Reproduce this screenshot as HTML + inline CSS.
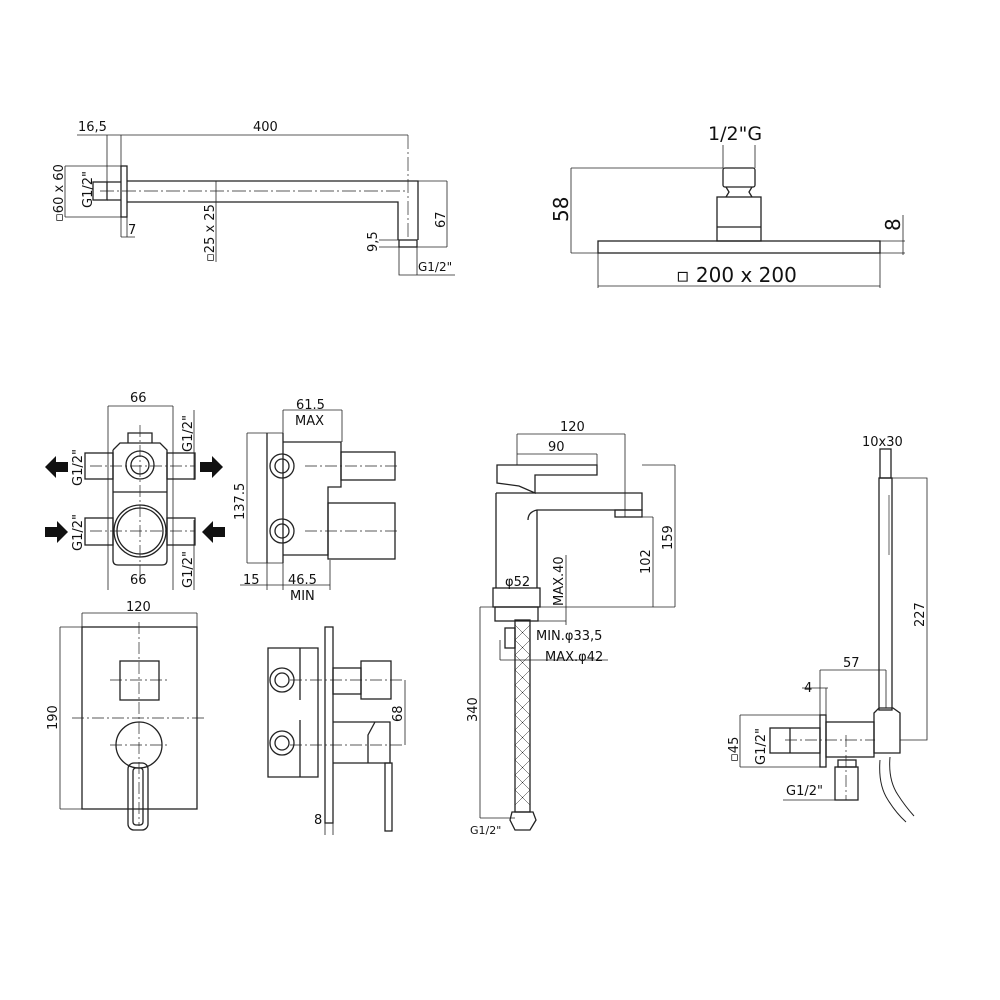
<!DOCTYPE html>
<html><head><meta charset="utf-8"><style>
html,body{margin:0;padding:0;background:#fff}
svg{display:block}
text{font-family:"DejaVu Sans","Liberation Sans",sans-serif;fill:#111}
</style></head><body>
<svg width="1000" height="1000" viewBox="0 0 1000 1000" xmlns="http://www.w3.org/2000/svg">
<g fill="none" stroke="#222" stroke-width="1.3">
<!-- ===== Shower arm ===== -->
<line x1="77" y1="135" x2="408" y2="135" stroke-width="0.8"/>
<line x1="107" y1="135" x2="107" y2="200" stroke-width="0.8"/>
<line x1="121" y1="135" x2="121" y2="237" stroke-width="0.8"/>
<rect x="121" y="166" width="6" height="51"/>
<path d="M127 181 H418 V240 M127 202 H398 V240"/>
<rect x="93" y="182" width="14" height="18"/>
<path d="M107 182 H121 M107 200 H121"/>
<line x1="100" y1="191" x2="405" y2="191" stroke-width="0.7" stroke-dasharray="14 3 2 3"/>
<line x1="408" y1="135" x2="408" y2="240" stroke-width="0.7" stroke-dasharray="14 3 2 3"/>
<path d="M65 166 H121 M65 217 H121 M65 166 V217" stroke-width="0.8"/>
<path d="M127 217 V237 M121 237 H135" stroke-width="0.8"/>
<line x1="216" y1="181" x2="216" y2="262" stroke-width="0.8"/>
<rect x="399" y="240" width="18" height="7"/>
<path d="M399 247 V275 H455 M417 247 V275" stroke-width="0.8"/>
<path d="M379 240 H399 M379 247 H399 M417 247 H447 M418 181 H447 M447 181 V247" stroke-width="0.8"/>
<!-- ===== Shower head ===== -->
<rect x="598" y="241" width="282" height="12"/>
<rect x="717" y="197" width="44" height="44"/>
<line x1="717" y1="227" x2="761" y2="227"/>
<rect x="723" y="168" width="32" height="19" rx="2"/>
<path d="M726 187 L729 192 L726 197 M752 187 L749 192 L752 197"/>
<path d="M723 145 V168 M755 145 V168" stroke-width="0.8"/>
<path d="M571 168 V253 M571 168 H723 M571 253 H598" stroke-width="0.8"/>
<path d="M903 215 V255 M880 241 H905 M880 253 H905" stroke-width="0.8"/>
<path d="M598 253 V288 M880 253 V288 M598 286 H880" stroke-width="0.8"/>
<!-- ===== Valve front ===== -->
<path d="M108 406 H173 M108 406 V590 M173 406 V590 M194 410 V480 M194 520 V590" stroke-width="0.8"/>
<path d="M113 450 V560 Q113 565 118 565 H162 Q167 565 167 560 V450 L160 443 H128 V433 H152 V443 M113 450 L120 443 H128 M113 492 H167"/>
<circle cx="140" cy="465" r="14"/><circle cx="140" cy="465" r="9"/>
<circle cx="140" cy="531" r="26"/><circle cx="140" cy="531" r="23"/>
<rect x="85" y="453" width="28" height="26"/><rect x="167" y="453" width="28" height="26"/>
<rect x="85" y="518" width="28" height="27"/><rect x="167" y="518" width="28" height="27"/>
<g stroke-width="0.7" stroke-dasharray="12 3 2 3"><line x1="90" y1="466" x2="195" y2="466"/><line x1="90" y1="531" x2="195" y2="531"/><line x1="140" y1="425" x2="140" y2="580"/></g>
<!-- side -->
<path d="M247 433 V563 M247 433 H283 M247 563 H283" stroke-width="0.8"/>
<path d="M267 433 V563 M283 433 V563 M283 442 H341 V487 H328 V555 H283"/>
<circle cx="282" cy="466" r="12"/><circle cx="282" cy="466" r="7"/>
<circle cx="282" cy="531" r="12"/><circle cx="282" cy="531" r="7"/>
<rect x="341" y="452" width="54" height="28"/><rect x="328" y="503" width="67" height="56"/>
<g stroke-width="0.7" stroke-dasharray="12 3 2 3"><line x1="305" y1="466" x2="400" y2="466"/><line x1="305" y1="531" x2="400" y2="531"/></g>
<path d="M283 410 H342 M283 410 V440 M342 410 V442 M240 585 H330 M267 563 V590 M283 563 V590 M330 560 V590" stroke-width="0.8"/>
<!-- ===== Plate front ===== -->
<path d="M82 613 H197 M82 613 V627 M197 613 V627 M60 627 H82 M60 809 H82 M60 627 V809" stroke-width="0.8"/>
<rect x="82" y="627" width="115" height="182"/>
<rect x="120" y="661" width="39" height="39"/>
<circle cx="139" cy="745" r="23"/>
<rect x="128" y="763" width="20" height="67" rx="6"/>
<rect x="133" y="768" width="10" height="57" rx="3"/>
<g stroke-width="0.7" stroke-dasharray="12 3 2 3"><line x1="139" y1="622" x2="139" y2="826"/><line x1="72" y1="718" x2="207" y2="718"/><line x1="110" y1="680" x2="168" y2="680"/><line x1="110" y1="745" x2="168" y2="745"/></g>
<!-- side -->
<rect x="325" y="627" width="8" height="196"/>
<path d="M268 648 H318 V777 H268 Z M300 648 V700 M300 720 V777"/>
<circle cx="282" cy="680" r="12"/><circle cx="282" cy="680" r="7"/>
<circle cx="282" cy="743" r="12"/><circle cx="282" cy="743" r="7"/>
<rect x="333" y="668" width="28" height="26"/><rect x="361" y="661" width="30" height="38"/>
<path d="M333 722 H390 V763 H333 M375 722 L368 735 V763"/>
<rect x="385" y="763" width="7" height="68"/>
<g stroke-width="0.7" stroke-dasharray="12 3 2 3"><line x1="290" y1="680" x2="405" y2="680"/><line x1="290" y1="745" x2="405" y2="745"/></g>
<path d="M405 680 V745 M325 823 V835 M333 823 V835" stroke-width="0.8"/>
<!-- ===== Faucet ===== -->
<path d="M517 434 H625 M517 434 V465 M625 434 V517 M517 454 H597 M597 454 V465" stroke-width="0.8"/>
<path d="M497 465 H597 V475 H535 V493 L519 486 L497 483 Z"/>
<path d="M496 493 H642 V510 H537 Q528 512 528 520 M496 493 V588 M537 510 V588"/>
<rect x="615" y="510" width="27" height="7"/>
<rect x="493" y="588" width="47" height="19"/>
<rect x="495" y="607" width="43" height="14"/>
<rect x="505" y="628" width="10" height="20"/>
<rect x="515" y="620" width="15" height="192"/>
<path d="M515 625 L530 640 M515 640 L530 655 M515 655 L530 670 M515 670 L530 685 M515 685 L530 700 M515 700 L530 715 M515 715 L530 730 M515 730 L530 745 M515 745 L530 760 M515 760 L530 775 M515 775 L530 790 M515 790 L530 805 M530 625 L515 640 M530 640 L515 655 M530 655 L515 670 M530 670 L515 685 M530 685 L515 700 M530 700 L515 715 M530 715 L515 730 M530 730 L515 745 M530 745 L515 760 M530 760 L515 775 M530 775 L515 790 M530 790 L515 805" stroke-width="0.5"/>
<path d="M512 812 H533 L536 820 L530 830 H515 L510 820 Z"/>
<path d="M480 607 H675 M675 465 V607 M642 465 H675 M653 517 V607 M642 517 H653 M566 555 V625 M537 621 H566 M480 607 V818 M480 818 H515 M500 660 H608 M500 640 V660" stroke-width="0.8"/>
<!-- ===== Hand shower ===== -->
<rect x="880" y="449" width="11" height="29"/>
<rect x="879" y="478" width="13" height="232"/>
<line x1="889" y1="495" x2="889" y2="555" stroke-width="0.7"/>
<path d="M874 713 L879 708 H893 L900 713 V753 H874 Z"/>
<rect x="826" y="722" width="48" height="35"/>
<rect x="820" y="715" width="6" height="52"/>
<rect x="770" y="728" width="50" height="25"/>
<line x1="790" y1="728" x2="790" y2="753"/>
<rect x="835" y="767" width="23" height="33"/>
<rect x="838" y="760" width="18" height="7"/>
<g stroke-width="0.7" stroke-dasharray="12 3 2 3"><line x1="785" y1="740" x2="875" y2="740"/><line x1="846" y1="735" x2="846" y2="800"/></g>
<path d="M892 478 H927 V740 H900 M820 670 V715 M820 670 H886 M886 670 V708 M740 715 H820 M740 767 H820 M740 715 V767 M783 800 H835 M802 688 H828 M826 688 V715" stroke-width="0.8"/>
<path d="M880 760 Q878 785 888 800 Q896 813 906 822 M890 757 Q888 780 898 795 Q905 806 914 816" stroke-width="1"/>
</g>
<!-- arrows -->
<g fill="#111">
<path d="M45 467 L56 456 V462 H68 V472 H56 V478 Z"/>
<path d="M68 532 L57 521 V527 H45 V537 H57 V543 Z"/>
<path d="M223 467 L212 456 V462 H200 V472 H212 V478 Z"/>
<path d="M202 532 L213 521 V527 H225 V537 H213 V543 Z"/>
</g>
<!-- texts -->
<g font-size="13">
<text x="78" y="131">16,5</text><text x="253" y="131">400</text>
<text x="63" y="222" transform="rotate(-90 63 222)">▫60 x 60</text>
<text x="92" y="208" transform="rotate(-90 92 208)">G1/2"</text>
<text x="128" y="234">7</text>
<text x="214" y="262" transform="rotate(-90 214 262)">▫25 x 25</text>
<text x="377" y="252" transform="rotate(-90 377 252)">9,5</text>
<text x="445" y="228" transform="rotate(-90 445 228)">67</text>
<text x="418" y="271" font-size="12">G1/2"</text>
</g>
<text x="708" y="140" font-size="19">1/2"G</text>
<text x="568" y="222" font-size="20" transform="rotate(-90 568 222)">58</text>
<text x="900" y="231" font-size="20" transform="rotate(-90 900 231)">8</text>
<text x="676" y="282" font-size="20">▫ 200 x 200</text>
<g font-size="13">
<text x="130" y="402">66</text><text x="130" y="584">66</text>
<text x="82" y="486" transform="rotate(-90 82 486)">G1/2"</text>
<text x="82" y="551" transform="rotate(-90 82 551)">G1/2"</text>
<text x="192" y="452" transform="rotate(-90 192 452)">G1/2"</text>
<text x="192" y="588" transform="rotate(-90 192 588)">G1/2"</text>
<text x="296" y="409">61.5</text><text x="295" y="425">MAX</text>
<text x="244" y="520" transform="rotate(-90 244 520)">137.5</text>
<text x="243" y="584">15</text><text x="288" y="584">46.5</text><text x="290" y="600">MIN</text>
<text x="126" y="611">120</text>
<text x="57" y="730" transform="rotate(-90 57 730)">190</text>
<text x="402" y="722" transform="rotate(-90 402 722)">68</text>
<text x="314" y="824">8</text>
<text x="560" y="431">120</text><text x="548" y="451">90</text>
<text x="505" y="586">φ52</text>
<text x="563" y="606" transform="rotate(-90 563 606)">MAX.40</text>
<text x="650" y="574" transform="rotate(-90 650 574)">102</text>
<text x="672" y="550" transform="rotate(-90 672 550)">159</text>
<text x="536" y="640">MIN.φ33,5</text><text x="545" y="661">MAX.φ42</text>
<text x="477" y="722" transform="rotate(-90 477 722)">340</text>
<text x="470" y="834" font-size="11">G1/2"</text>
<text x="862" y="446">10x30</text>
<text x="924" y="627" transform="rotate(-90 924 627)">227</text>
<text x="843" y="667">57</text>
<text x="804" y="692">4</text>
<text x="738" y="762" transform="rotate(-90 738 762)">▫45</text>
<text x="765" y="765" transform="rotate(-90 765 765)">G1/2"</text>
<text x="786" y="795">G1/2"</text>
</g>
</svg>
</body></html>
